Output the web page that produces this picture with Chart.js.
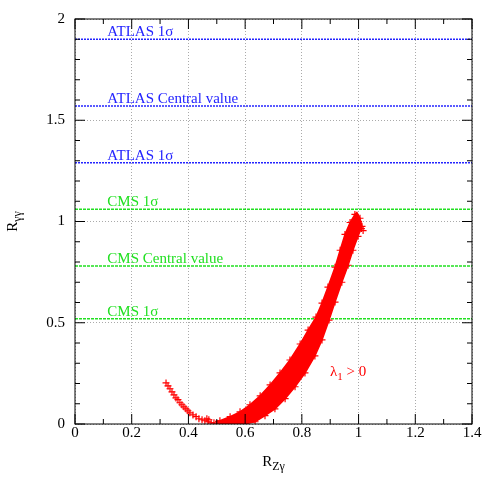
<!DOCTYPE html>
<html><head><meta charset="utf-8">
<script src="https://cdn.jsdelivr.net/npm/chart.js@4.4.0/dist/chart.umd.min.js"></script>
<style>html,body{margin:0;padding:0;background:#fff;}#wrap{width:500px;height:489px;position:relative;}</style>
</head><body><div id="wrap"><canvas id="c"></canvas></div>
<script>
// ---- data ----
const xTickValues = [0, 0.2, 0.4, 0.6, 0.8, 1.0, 1.2, 1.4];
const xTickLabels = ['0', '0.2', '0.4', '0.6', '0.8', '1', '1.2', '1.4'];
const xMinorTicks = [0.1, 0.3, 0.5, 0.7, 0.9, 1.1, 1.3];
const yTickValues = [0, 0.5, 1.0, 1.5, 2.0];
const yTickLabels = ['0', '0.5', '1', '1.5', '2'];
const yMinorTicks = [0.1, 0.2, 0.3, 0.4, 0.6, 0.7, 0.8, 0.9, 1.1, 1.2, 1.3, 1.4, 1.6, 1.7, 1.8, 1.9];

const refLabels = ['ATLAS 1σ', 'ATLAS Central value', 'ATLAS 1σ', 'CMS 1σ', 'CMS Central value', 'CMS 1σ'];
const refValues = [1.90, 1.57, 1.29, 1.06, 0.78, 0.52];
const refGroup  = ['ATLAS', 'ATLAS', 'ATLAS', 'CMS', 'CMS', 'CMS'];
const refLabelX = 0.114;

// outline of the dense part of the scan band (upper edge, tip, lower edge)
const bandX = [0.494,0.511,0.547,0.582,0.617,0.653,0.688,0.723,0.758,0.794,0.822,0.850,0.871,0.892,0.917,0.935,0.952,0.970,0.987,0.994,1.005,1.012,0.998,0.980,0.963,0.941,0.917,0.896,0.871,0.846,0.811,0.776,0.741,0.705,0.670,0.635,0.599,0.564,0.511];
const bandY = [0.012,0.016,0.036,0.060,0.095,0.139,0.193,0.252,0.316,0.395,0.464,0.528,0.597,0.676,0.774,0.858,0.936,0.995,1.035,1.045,1.016,0.976,0.927,0.858,0.784,0.700,0.602,0.513,0.415,0.336,0.252,0.184,0.125,0.075,0.041,0.011,0.000,0.000,0.000];

// individual scan points (crosses)
const scanX = [0.321,0.328,0.335,0.342,0.349,0.356,0.363,0.370,0.377,0.384,0.391,0.398,0.405,0.416,0.427,0.437,0.448,0.458,0.469,0.480,0.490,0.501,0.511,0.525,0.539,0.465,0.472,
  0.511,0.547,0.582,0.617,0.653,0.688,0.723,0.758,0.794,0.822,0.850,0.871,0.892,0.917,0.935,0.952,0.970,0.987,
  1.005,1.012,0.998,0.980,0.963,0.941,0.917,0.896,0.871,0.846,0.811,0.776,0.741,0.705,0.670,0.635,0.599,0.564,
  0.547,0.582,0.617,0.653,0.688,0.723,0.758,0.794,0.822,0.850,0.871,0.892,0.913,0.935,0.956,0.973,0.987,
  1.010,1.016,1.000];
const scanY = [0.203,0.188,0.174,0.159,0.144,0.129,0.120,0.105,0.095,0.085,0.075,0.065,0.055,0.045,0.036,0.026,0.021,0.016,0.011,0.006,0.006,0.001,0.001,0.001,0.001,0.026,0.021,
  0.016,0.036,0.060,0.095,0.139,0.193,0.252,0.316,0.395,0.464,0.528,0.597,0.676,0.774,0.858,0.936,0.995,1.035,
  1.016,0.976,0.927,0.858,0.784,0.700,0.602,0.513,0.415,0.336,0.252,0.184,0.125,0.075,0.041,0.011,0.001,0.001,
  0.011,0.026,0.046,0.075,0.120,0.169,0.228,0.297,0.366,0.435,0.504,0.582,0.661,0.749,0.833,0.907,0.966,
  0.965,0.955,1.000];

const xTitle = ['R', 'Zγ'];
const yTitle = ['R', 'γγ'];
const noteText = ['λ', '1', ' > 0'];
const noteX = 0.899, noteY = 0.238;

// ---- styles ----
const FONT = "'Liberation Serif','Times New Roman',serif";
const BLUE = '#2424ff', GREEN = '#22e022', RED = '#ff0000';

const toPts = (xs, ys) => xs.map((v, i) => ({x: v, y: ys[i]}));

const datasets = [
  {data: toPts(scanX, scanY), pointStyle: 'cross', pointRadius: 3.5, pointBorderWidth: 1.2,
   borderColor: RED, backgroundColor: RED, showLine: false, order: 0, clip: 0},
  {data: toPts(bandX, bandY), showLine: true, fill: 'shape', borderColor: RED, borderWidth: 1.5,
   backgroundColor: RED, pointRadius: 0, order: 1, clip: 0}
];
refValues.forEach((v, i) => {
  const atlas = refGroup[i] === 'ATLAS';
  datasets.push({data: [{x: 0, y: v}, {x: 1.4, y: v}], showLine: true, fill: false,
    borderColor: atlas ? BLUE : GREEN, borderWidth: 1.5, borderDash: atlas ? [2, 1] : [3, 1],
    pointRadius: 0, order: 2 + i});
});

const decor = {
  id: 'decor',
  afterDraw(chart) {
    const {ctx, chartArea: a, scales: {x, y}} = chart;
    ctx.save();
    ctx.strokeStyle = '#000'; ctx.lineWidth = 1;
    ctx.beginPath();
    const tx = (v, L) => { const p = x.getPixelForValue(v); ctx.moveTo(p, a.bottom); ctx.lineTo(p, a.bottom - L); ctx.moveTo(p, a.top); ctx.lineTo(p, a.top + L); };
    const ty = (v, L) => { const p = y.getPixelForValue(v); ctx.moveTo(a.left, p); ctx.lineTo(a.left + L, p); ctx.moveTo(a.right, p); ctx.lineTo(a.right - L, p); };
    xTickValues.forEach(v => tx(v, 10)); xMinorTicks.forEach(v => tx(v, 5));
    yTickValues.forEach(v => ty(v, 10)); yMinorTicks.forEach(v => ty(v, 5));
    ctx.stroke();
    ctx.strokeRect(a.left, a.top, a.right - a.left, a.bottom - a.top);

    // reference line labels
    ctx.font = '15px ' + FONT; ctx.textAlign = 'left'; ctx.textBaseline = 'alphabetic';
    refLabels.forEach((t, i) => {
      ctx.fillStyle = refGroup[i] === 'ATLAS' ? BLUE : GREEN;
      ctx.fillText(t, x.getPixelForValue(refLabelX), y.getPixelForValue(refValues[i]) - 3);
    });

    // lambda note
    ctx.fillStyle = RED;
    let nx = x.getPixelForValue(noteX), ny = y.getPixelForValue(noteY);
    ctx.font = '15px ' + FONT; ctx.fillText(noteText[0], nx, ny); nx += ctx.measureText(noteText[0]).width;
    ctx.font = '11px ' + FONT; ctx.fillText(noteText[1], nx, ny + 4); nx += ctx.measureText(noteText[1]).width;
    ctx.font = '15px ' + FONT; ctx.fillText(noteText[2], nx, ny);

    // axis titles
    ctx.fillStyle = '#000';
    const drawTitle = (parts, cx, cy) => {
      ctx.font = '15px ' + FONT; const w1 = ctx.measureText(parts[0]).width;
      ctx.font = '12px ' + FONT; const w2 = ctx.measureText(parts[1]).width;
      let sx = cx - (w1 + w2) / 2;
      ctx.font = '15px ' + FONT; ctx.fillText(parts[0], sx, cy);
      ctx.font = '12px ' + FONT; ctx.fillText(parts[1], sx + w1, cy + 4);
    };
    drawTitle(xTitle, (a.left + a.right) / 2, 466);
    ctx.save();
    ctx.translate(17, (a.top + a.bottom) / 2);
    ctx.rotate(-Math.PI / 2);
    drawTitle(yTitle, 0, 0);
    ctx.restore();
    ctx.restore();
  }
};

new Chart(document.getElementById('c'), {
  type: 'scatter',
  data: {datasets},
  options: {
    responsive: true, maintainAspectRatio: false, animation: false,
    layout: {padding: {top: 17, right: 28, left: 0, bottom: 0}},
    plugins: {legend: {display: false}, tooltip: {enabled: false}},
    scales: {
      x: {type: 'linear', min: 0, max: 1.4,
        afterFit: s => { s.height = 65; },
        afterBuildTicks: s => { s.ticks = xTickValues.map(v => ({value: v})); },
        ticks: {padding: 0, maxRotation: 0, autoSkip: false, color: '#000', font: {family: FONT, size: 15},
          callback: (v, i) => xTickLabels[i]},
        grid: {drawTicks: false, color: '#aaaaaa', lineWidth: 1},
        border: {display: false, dash: [1, 2]}
      },
      y: {type: 'linear', min: 0, max: 2,
        afterFit: s => { s.width = 75; },
        afterBuildTicks: s => { s.ticks = yTickValues.map(v => ({value: v})); },
        ticks: {padding: 10, color: '#000', font: {family: FONT, size: 15},
          callback: (v, i) => yTickLabels[i]},
        grid: {drawTicks: false, color: '#aaaaaa', lineWidth: 1},
        border: {display: false, dash: [1, 2]}
      }
    }
  },
  plugins: [decor]
});
</script></body></html>
